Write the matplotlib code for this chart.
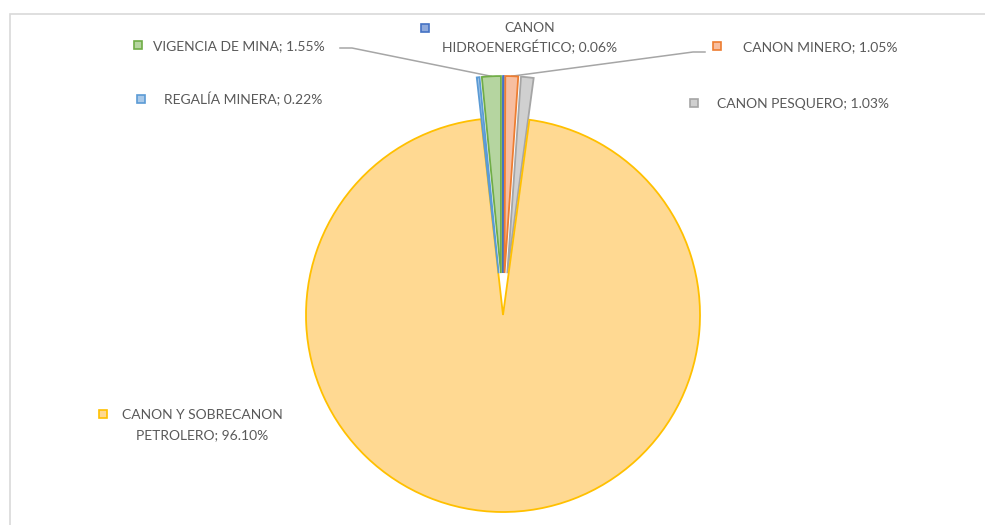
import matplotlib.pyplot as plt
import numpy as np
from matplotlib.patches import Rectangle

plt.rcParams['font.family'] = ['Lato', 'DejaVu Sans']

# slice order: clockwise from 12 o'clock
labels = ["CANON\nHIDROENERGÉTICO", "CANON MINERO", "CANON PESQUERO",
          "CANON Y SOBRECANON\nPETROLERO", "REGALÍA MINERA", "VIGENCIA DE MINA"]
shares = [0.06, 1.05, 1.03, 96.10, 0.22, 1.55]
fills = ["#8FAADC", "#F7BEA0", "#D0D0D0", "#FFD992", "#A9C9E9", "#B5D5A0"]
edges = ["#4472C4", "#ED7D31", "#A5A5A5", "#FFC000", "#5B9BD5", "#70AD47"]

R = 197
# pie explode is in data units (pixels here)
explode = [42, 42, 42, 0, 42, 42]

# label layout in pixels (x, y from top), marker position, text anchor
lab_pos = {
    0: dict(mk=(425, 28), txt=(530, 38), ha="center", ls=1.5),
    1: dict(mk=(717, 46), txt=(743, 47), ha="left", ls=1.2),
    2: dict(mk=(694, 103), txt=(717, 104), ha="left", ls=1.2),
    3: dict(mk=(103, 414), txt=(202, 425), ha="center", ls=1.75),
    4: dict(mk=(141, 99), txt=(164, 99), ha="left", ls=1.2),
    5: dict(mk=(138, 45), txt=(153, 46), ha="left", ls=1.2),
}
# leader lines: label end points (pixels)
leaders = {5: [(340, 48), (352, 48)], 1: [(705, 52), (693, 52)]}

W, H = 985, 525
fig = plt.figure(figsize=(W / 100, H / 100), dpi=100)
ax = fig.add_axes([0, 0, 1, 1])

ax.add_patch(Rectangle((10, -10), W + 20, H - 14 + 10, fill=False,
                       edgecolor="#D9D9D9", linewidth=1.2))

wedges, _ = ax.pie(shares, explode=explode, colors=fills, startangle=90,
                   counterclock=False, center=(503, H - 315), radius=R,
                   wedgeprops=dict(linewidth=1.3), frame=True)
for w, ec in zip(wedges, edges):
    w.set_edgecolor(ec)
ax.set_xlim(0, W)
ax.set_ylim(0, H)
ax.set_aspect("equal")
ax.axis("off")

for i, (lab, val) in enumerate(zip(labels, shares)):
    p = lab_pos[i]
    mx, my = p["mk"]
    ax.plot(mx, H - my, marker="s", markersize=5.5, mfc=fills[i], mec=edges[i],
            mew=1.2, linestyle="")
    tx, ty = p["txt"]
    ax.text(tx, H - ty, f"{lab}; {val:.2f}%", ha=p["ha"], va="center",
            fontsize=10, color="#595959", multialignment="center",
            linespacing=p["ls"])

for i, pts in leaders.items():
    w = wedges[i]
    ang = np.deg2rad((w.theta1 + w.theta2) / 2)
    ex = w.center[0] + w.r * np.cos(ang)
    ey = w.center[1] + w.r * np.sin(ang)
    xs = [x for x, _ in pts] + [ex]
    ys = [H - y for _, y in pts] + [ey]
    ax.plot(xs, ys, color="#A6A6A6", linewidth=1.1, zorder=0.5)

fig.savefig("out.png", dpi=100)
